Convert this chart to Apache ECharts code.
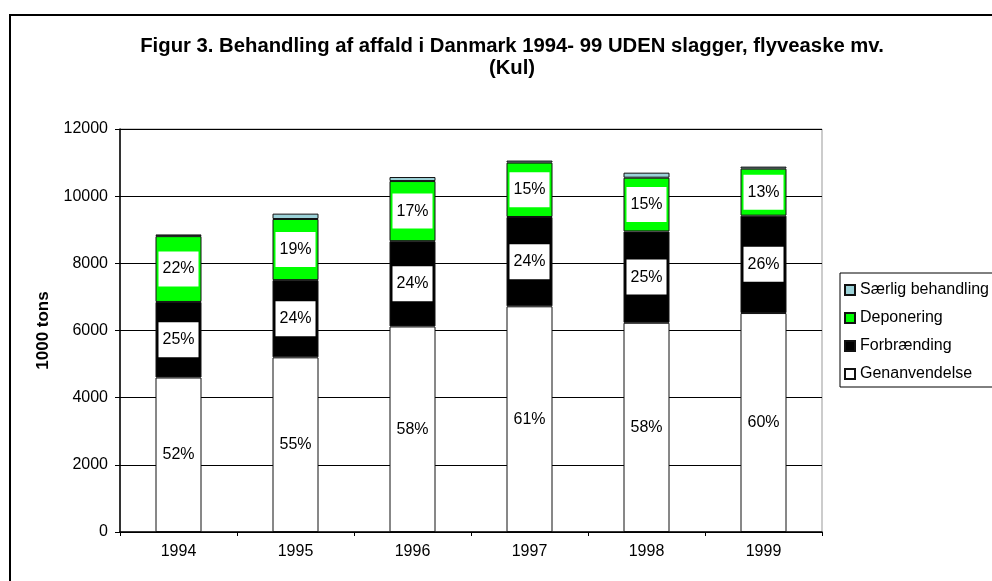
<!DOCTYPE html>
<html>
<head>
<meta charset="utf-8">
<script src="https://cdn.jsdelivr.net/npm/echarts@6/dist/echarts.min.js"></script>
<style>
    html, body { margin: 0; padding: 0; background: #fff; }
    #chart { width: 992px; height: 581px; }
</style>
</head>
<body>
<div id="chart"></div>
<script>
// years on the x axis
var years = ['1994', '1995', '1996', '1997', '1998', '1999'];

// 1000 tons
var genanvendelse = [4600, 5200, 6120, 6720, 6230, 6520];
var forbraending = [2250, 2300, 2540, 2660, 2720, 2900];
var deponering = [1960, 1820, 1790, 1620, 1600, 1400];
var saerlig = [50, 160, 120, 60, 150, 60];

// percent labels printed in the bars
var pctGenanv = ['52%', '55%', '58%', '61%', '58%', '60%'];
var pctForbr = ['25%', '24%', '24%', '24%', '25%', '26%'];
var pctDepon = ['22%', '19%', '17%', '15%', '15%', '13%'];

var yTicks = [0, 2000, 4000, 6000, 8000, 10000, 12000];

var fontFamily = 'Liberation Sans, Arial, sans-serif';

function pctLabel(list) {
    return {
        show: true,
        position: 'inside',
        color: '#000',
        fontSize: 16,
        fontFamily: fontFamily,
        lineHeight: 16,
        backgroundColor: '#fff',
        padding: [10, 4, 9, 4],
        formatter: function (p) {
            return list[p.dataIndex];
        }
    };
}

function bar(name, data, color, label) {
    return {
        name: name,
        type: 'bar',
        stack: 'total',
        barWidth: 46,
        data: data,
        itemStyle: {
            color: color,
            borderColor: '#111',
            borderWidth: 1
        },
        label: label || { show: false },
        emphasis: { disabled: true }
    };
}

var chart = echarts.init(document.getElementById('chart'));

var option = {
    animation: false,
    backgroundColor: '#fff',
    title: {
        text: 'Figur 3. Behandling af affald i Danmark 1994- 99 UDEN slagger, flyveaske mv.\n(Kul)',
        left: 507,
        top: 30,
        textAlign: 'center',
        textStyle: {
            fontFamily: fontFamily,
            fontSize: 20.3,
            fontWeight: 'bold',
            color: '#000',
            lineHeight: 22
        }
    },
    legend: {
        orient: 'vertical',
        left: 840,
        top: 273,
        padding: [9, 4, 5, 4],
        itemGap: 12,
        itemWidth: 10,
        itemHeight: 10,
        icon: 'rect',
        backgroundColor: '#fff',
        borderColor: '#000',
        borderWidth: 1,
        borderRadius: 0,
        selectedMode: false,
        data: ['Særlig behandling', 'Deponering', 'Forbrænding', 'Genanvendelse'],
        textStyle: {
            fontFamily: fontFamily,
            fontSize: 16,
            color: '#000'
        }
    },
    grid: {
        left: 120,
        right: 170,
        top: 129,
        bottom: 49,
        show: true,
        borderColor: '#999',
        borderWidth: 1
    },
    xAxis: {
        type: 'category',
        data: years,
        axisLine: { lineStyle: { color: '#000', width: 1.5 } },
        axisTick: { show: true, length: 4, lineStyle: { color: '#000' } },
        axisLabel: {
            fontFamily: fontFamily,
            fontSize: 16,
            color: '#000',
            margin: 12
        }
    },
    yAxis: {
        type: 'value',
        min: yTicks[0],
        max: yTicks[yTicks.length - 1],
        interval: 2000,
        name: '1000 tons',
        nameLocation: 'middle',
        nameGap: 68,
        nameTextStyle: {
            fontFamily: fontFamily,
            fontSize: 17,
            fontWeight: 'bold',
            color: '#000'
        },
        axisLine: { show: true, lineStyle: { color: '#000', width: 1.5 } },
        axisTick: { show: true, length: 5, lineStyle: { color: '#000' } },
        axisLabel: {
            fontFamily: fontFamily,
            fontSize: 16,
            color: '#000',
            margin: 12,
            formatter: function (v) {
                return String(v);
            }
        },
        splitLine: { lineStyle: { color: '#000', width: 1 } }
    },
    graphic: [
        {
            type: 'rect',
            shape: { x: 10, y: 15, width: 1000, height: 600 },
            style: { fill: 'none', stroke: '#000', lineWidth: 2 },
            z: 100,
            silent: true
        }
    ],
    series: [
        bar('Genanvendelse', genanvendelse, '#fff', pctLabel(pctGenanv)),
        bar('Forbrænding', forbraending, '#000', pctLabel(pctForbr)),
        bar('Deponering', deponering, '#00ff00', pctLabel(pctDepon)),
        bar('Særlig behandling', saerlig, '#9cd2d8')
    ]
};

chart.setOption(option);
</script>
</body>
</html>
